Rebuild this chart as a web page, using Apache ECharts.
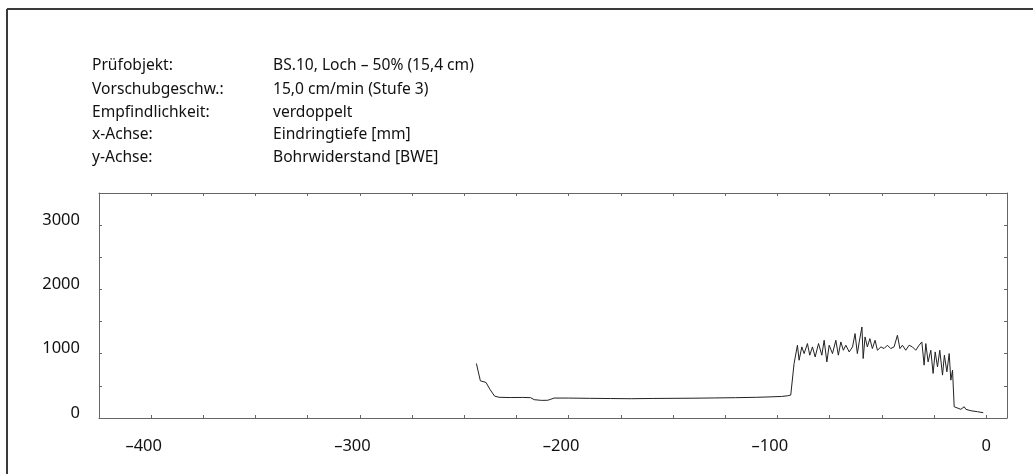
<!DOCTYPE html>
<html>
<head>
<meta charset="utf-8">
<script src="https://cdn.jsdelivr.net/npm/echarts@6/dist/echarts.min.js"></script>
<style>
html,body{margin:0;padding:0;background:#fff;}
#chart{width:1035px;height:474px;}
</style>
</head>
<body>
<div id="chart"></div>
<script>
// Header info
const infoLabels = ["Prüfobjekt:", "Vorschubgeschw.:", "Empfindlichkeit:", "x-Achse:", "y-Achse:"];
const infoValues = ["BS.10, Loch – 50% (15,4 cm)", "15,0 cm/min (Stufe 3)", "verdoppelt", "Eindringtiefe [mm]", "Bohrwiderstand [BWE]"];

// Axis ranges / ticks
const xTickLabels = [-400, -300, -200, -100, 0];
const yTickLabels = [0, 1000, 2000, 3000];

// Data: penetration depth [mm] and drilling resistance [BWE]
const depth = [
  -244.2, -242.3, -239.6, -237.7, -235.5, -233.3, -228, -222, -218.2, -216.5, -213, -210, -208.5, -207.0,
  -200, -190, -180, -170, -160, -150, -140, -130, -120, -110, -104, -98, -95, -93.6,
  -92.0, -90.4, -89.6, -88.3, -87.2, -85.6, -84.5, -83.2, -81.9, -80.3, -78.7, -77.6, -76.3,
  -75.2, -73.6, -72.0, -70.8, -69.6, -68.4, -67.2, -65.6, -64.0, -62.8, -61.7, -60.8, -59.5,
  -58.9, -58.0, -56.9, -55.7, -54.5, -53.2, -52.1, -50.4, -48.9, -47.3, -45.7, -44.1, -42.5,
  -41.3, -40.1, -38.5, -36.9, -35.3, -33.7, -32.1, -30.8, -29.7, -28.9, -27.8, -26.5, -25.4,
  -24.4, -23.3, -22.2, -20.9, -20.0, -18.8, -17.7, -16.9, -16.1, -15.3, -14.5, -12.1, -10.5,
  -9.7, -7.3, -4.2, -1.4
];
const resistance = [
  848, 578, 553, 445, 341, 322, 318, 320, 316, 285, 274, 276, 292, 310,
  310, 306, 303, 300, 304, 306, 308, 312, 316, 322, 328, 335, 346, 357,
  848, 1132, 899, 1106, 1002, 1158, 977, 1106, 950, 1158, 977, 1209, 873,
  1132, 1002, 1209, 977, 1183, 1054, 1132, 1028, 1106, 1313, 1002, 1183, 1416,
  925, 1261, 1106, 1235, 1080, 1209, 1054, 1106, 1080, 1132, 1080, 1106, 1287,
  1080, 1132, 1054, 1132, 1106, 1054, 1132, 1183, 822, 1158, 873, 1054, 693,
  1028, 795, 1054, 667, 977, 718, 1002, 589, 744, 175, 150, 135, 175,
  135, 113, 98, 82
];

const seriesData = depth.map((d, i) => [d, resistance[i]]);

const txtColor = '#111';
const axisColor = '#666';
const fontFam = '"Noto Sans", "Open Sans", sans-serif';

const graphics = [
  { type: 'line', shape: { x1: 7, y1: 9, x2: 1033, y2: 9 }, style: { stroke: '#3a3a3a', lineWidth: 2 } },
  { type: 'line', shape: { x1: 7, y1: 9, x2: 7, y2: 474 }, style: { stroke: '#3a3a3a', lineWidth: 2 } }
];
const rowY = [64, 88, 111, 133, 156];
infoLabels.forEach((t, i) => {
  graphics.push({ type: 'text', left: 92, top: rowY[i] - 6,
    style: { text: t, fill: txtColor, font: '15.6px ' + fontFam } });
  graphics.push({ type: 'text', left: 273, top: rowY[i] - 6,
    style: { text: infoValues[i], fill: txtColor, font: '15.6px ' + fontFam } });
});

const fmtX = v => (xTickLabels.indexOf(v) >= 0 ? (v < 0 ? '–' + Math.abs(v) + '{s|}' : String(v)) : '');
const fmtY = v => (yTickLabels.indexOf(v) >= 0 ? String(v) : '');

const chart = echarts.init(document.getElementById('chart'));
chart.setOption({
  backgroundColor: '#fff',
  animation: false,
  grid: { left: 99, right: 28, top: 193, bottom: 56, containLabel: false },
  graphic: graphics,
  xAxis: [
    {
      type: 'value', min: -425, max: 10, interval: 25, position: 'bottom',
      axisLine: { show: true, onZero: false, lineStyle: { color: axisColor, width: 1 } },
      axisTick: { show: true, inside: true, length: 3, lineStyle: { color: axisColor } },
      axisLabel: { formatter: fmtX, color: txtColor, fontSize: 16.5, fontFamily: fontFam, margin: 20,
        showMinLabel: false, showMaxLabel: false, rich: { s: { width: 15 } } },
      splitLine: { show: false }
    },
    {
      type: 'value', min: -425, max: 10, interval: 25, position: 'top',
      axisLine: { show: true, onZero: false, lineStyle: { color: axisColor, width: 1 } },
      axisTick: { show: true, inside: true, length: 3, lineStyle: { color: axisColor } },
      axisLabel: { show: false },
      splitLine: { show: false }
    }
  ],
  yAxis: [
    {
      type: 'value', min: 0, max: 3500, interval: 500, position: 'left',
      axisLine: { show: true, onZero: false, lineStyle: { color: axisColor, width: 1 } },
      axisTick: { show: true, inside: true, length: 3, lineStyle: { color: axisColor } },
      axisLabel: { formatter: fmtY, color: txtColor, fontSize: 16.5, fontFamily: fontFam, margin: 19,
        verticalAlign: 'bottom', lineHeight: 10, showMaxLabel: false },
      splitLine: { show: false }
    },
    {
      type: 'value', min: 0, max: 3500, interval: 500, position: 'right',
      axisLine: { show: true, onZero: false, lineStyle: { color: axisColor, width: 1 } },
      axisTick: { show: true, inside: true, length: 3, lineStyle: { color: axisColor } },
      axisLabel: { show: false },
      splitLine: { show: false }
    }
  ],
  series: [{
    type: 'line',
    data: seriesData,
    xAxisIndex: 0, yAxisIndex: 0,
    showSymbol: false,
    lineStyle: { color: '#222', width: 1 },
    silent: true
  }]
});
</script>
</body>
</html>
